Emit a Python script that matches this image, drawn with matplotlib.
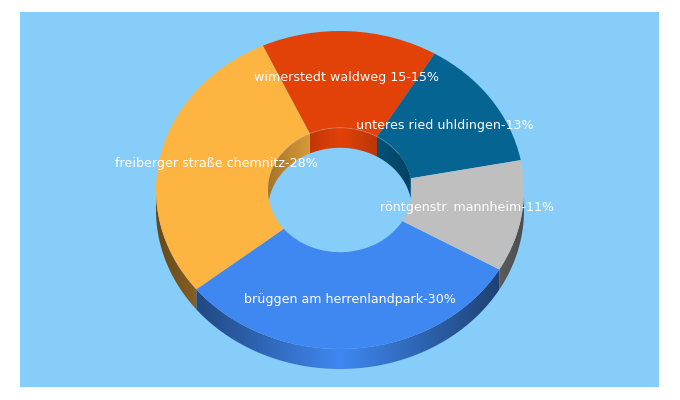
import numpy as np
import matplotlib
matplotlib.use("Agg")
import matplotlib.pyplot as plt
from matplotlib.patches import Rectangle, Polygon, Arc
from matplotlib.colors import to_rgb

labels = ["brüggen am herrenlandpark-30%", "freiberger straße chemnitz-28%",
          "wimerstedt waldweg 15-15%", "unteres ried uhldingen-13%",
          "röntgenstr. mannheim-11%"]
values = [30, 28, 15, 13, 11]
colors = ["#3F88F2", "#FDB441", "#E24108", "#056492", "#BFBFBF"]
label_px = [(350, 299), (216, 163), (347, 77), (445, 126), (467, 208)]
BG = "#87CDFA"

W, H = 680, 400
CX, CY, RX, RY = 340, 190, 184, 159
HOLE = 72 / 184
DEPTH = 20 / RY
START = -30.0

fig = plt.figure(figsize=(W / 100, H / 100), dpi=100, facecolor="white")
fig.add_artist(Rectangle((20 / W, 13 / H), 639 / W, 375 / H, transform=fig.transFigure,
                         facecolor=BG, edgecolor="none", zorder=-5))
ax = fig.add_axes([0, 0, 1, 1])
ax.patch.set_alpha(0)

wedges, _ = ax.pie(values, colors=colors, startangle=START, counterclock=False, radius=1,
                   wedgeprops=dict(width=1 - HOLE, linewidth=0), normalize=True)
for w in wedges:
    w.set_zorder(3)


def wall(t1, t2, radius, col, zorder, drop, inner=False):
    """Side wall of one slice (angles t1<t2), shaded left-right with a gradient."""
    if t2 <= t1:
        return
    t = np.radians(np.linspace(t1, t2, 200))
    x, y = radius * np.cos(t), radius * np.sin(t)
    pts = np.r_[np.c_[x, y], np.c_[x[::-1], y[::-1] - DEPTH]]
    xs = np.linspace(x.min(), x.max(), 400)
    f = 1 - drop * np.abs(xs) / radius
    rgb = np.clip(np.array(to_rgb(col))[None, None, :] * f[None, :, None], 0, 1)
    im = ax.imshow(rgb, extent=(xs[0], xs[-1], pts[:, 1].min(), pts[:, 1].max()),
                   aspect="auto", zorder=zorder, interpolation="bilinear")
    if inner:
        # inner wall: keep only what lies inside the hole
        edge = np.sqrt(np.maximum(radius ** 2 - x ** 2, 0))
        low = np.maximum(y - DEPTH, -edge)
        pts = np.r_[np.c_[x, edge], np.c_[x[::-1], low[::-1]]]
    im.set_clip_path(Polygon(pts, closed=True, transform=ax.transData))


for w, col in zip(wedges, colors):
    a, b = w.theta1 % 360, w.theta2 % 360
    if b <= a:
        b += 360
    wall(max(a, 180), min(b, 360), 1.0, col, 1, 0.6)
    wall(max(a, 0), min(b, 180), HOLE, col, 4, 0.35, inner=True)

ax.add_patch(Arc((0, 0), 2 * HOLE, 2 * HOLE, theta1=35, theta2=145, color="white",
                 alpha=0.18, lw=0.8, zorder=5))

ax.set_aspect("auto")
ax.set_xlim(-CX / RX, (W - CX) / RX)
ax.set_ylim(-(H - CY) / RY, CY / RY)
ax.axis("off")

for (px, py), lab in zip(label_px, labels):
    ax.text((px - CX) / RX, (CY - py) / RY, lab, color="white", fontsize=9.1,
            family="DejaVu Sans", ha="center", va="center", zorder=6)

fig.savefig("out.png", dpi=100, facecolor="white")
